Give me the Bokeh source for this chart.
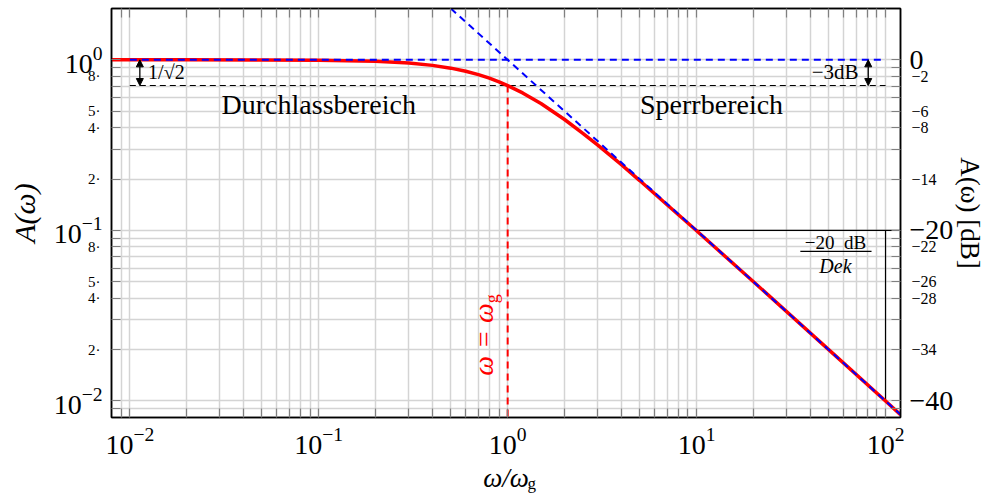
import math
from bokeh.plotting import figure
from bokeh.models import (LogAxis, FixedTicker, Label, Arrow, NormalHead, Range1d)
from bokeh.embed import file_html
from bokeh.resources import INLINE

# ---------------- data ----------------
omega = [0.008, 0.01, 0.02, 0.05, 0.1, 0.2, 0.3, 0.4, 0.5, 0.6, 0.7, 0.8, 0.9, 1.0,
         1.2, 1.5, 2.0, 2.5, 3.0, 4.0, 5.0, 7.0, 10.0, 20.0, 50.0, 100.0, 120.0]
amplitude = [1.0, 1.0, 1.0, 0.999, 0.995, 0.981, 0.958, 0.928, 0.894, 0.857, 0.819, 0.781, 0.743, 0.707,
             0.640, 0.555, 0.447, 0.371, 0.316, 0.243, 0.196, 0.141, 0.0995, 0.050, 0.020, 0.010, 0.0083]

asym_low_x = [0.01, 100.0]
asym_low_y = [1.0, 1.0]
asym_high_x = [0.5, 120.0]
asym_high_y = [2.0, 0.00833]
cut_x = [0.01, 100.0]
cut_y = [0.7071, 0.7071]
corner_x = [1.0, 1.0]
corner_y = [0.7071, 0.008]
slope_h_x = [10.0, 120.0]
slope_h_y = [0.1, 0.1]
slope_v_x = [100.0, 100.0]
slope_v_y = [0.1, 0.01]

x_major = [0.01, 0.1, 1, 10, 100]
x_minor = [0.009,
           0.02, 0.03, 0.04, 0.05, 0.06, 0.07, 0.08, 0.09,
           0.2, 0.3, 0.4, 0.5, 0.6, 0.7, 0.8, 0.9,
           2, 3, 4, 5, 6, 7, 8, 9,
           20, 30, 40, 50, 60, 70, 80, 90]
y_major = [0.01, 0.1, 1]
y_minor = [0.009,
           0.02, 0.03, 0.04, 0.05, 0.06, 0.07, 0.08, 0.09,
           0.2, 0.3, 0.4, 0.5, 0.6, 0.7, 0.8, 0.9]
y_minor_label_vals = [0.8, 0.5, 0.4, 0.2, 0.08, 0.05, 0.04, 0.02]
y_minor_labels = ["8·", "5·", "4·", "2·", "8·", "5·", "4·", "2·"]
db_major_labels = ["−40", "−20", "0"]
db_minor_labels = ["−2", "−6", "−8", "−14", "−22", "−26", "−28", "−34"]

XMIN, XMAX = 0.008, 120.0
YMIN, YMAX = 0.008, 2.0
X_SUB_POS = [1.34]          # where the subscript "g" of the x title sits
X_SUB_TEXT = ["g"]

FONT = "Liberation Serif"

p = figure(width=990, height=495, x_axis_type="log", y_axis_type="log",
           x_range=Range1d(XMIN, XMAX), y_range=Range1d(YMIN, YMAX),
           x_axis_location=None, y_axis_location=None,
           output_backend="svg", toolbar_location=None,
           min_border_left=111, min_border_right=90, min_border_top=8, min_border_bottom=78)
p.outline_line_color = "black"
p.outline_line_width = 1.5
p.background_fill_color = "white"
p.border_fill_color = "white"

xt = FixedTicker(ticks=x_major, minor_ticks=x_minor)
yt = FixedTicker(ticks=y_major, minor_ticks=y_minor)
# ticks drawn by the inner y axes: labelled minor values as "major", everything else as minor
y_other = sorted(set(y_major + y_minor) - set(y_minor_label_vals))
yt_inner = FixedTicker(ticks=y_minor_label_vals, minor_ticks=y_other)

for g, t in ((p.xgrid, xt), (p.ygrid, yt)):
    g.ticker = t
    g.grid_line_color = "#d4d4d4"
    g.grid_line_width = 1.5
    g.minor_grid_line_color = "#d4d4d4"
    g.minor_grid_line_width = 1.5


def ticks_on(ax):
    ax.major_tick_in = 9
    ax.major_tick_out = 0
    ax.minor_tick_in = 9
    ax.minor_tick_out = 0
    ax.major_tick_line_color = "#808080"
    ax.minor_tick_line_color = "#808080"
    ax.major_tick_line_width = 1.2
    ax.minor_tick_line_width = 1.2
    ax.axis_line_color = "black"
    ax.axis_line_width = 1.5


def ticks_off(ax):
    ax.major_tick_in = 0
    ax.major_tick_out = 0
    ax.minor_tick_in = 0
    ax.minor_tick_out = 0
    ax.major_tick_line_color = None
    ax.minor_tick_line_color = None
    ax.axis_line_color = None


def fonts(ax, size):
    ax.major_label_text_font = FONT
    ax.major_label_text_font_size = size
    ax.major_label_text_color = "black"
    ax.axis_label_text_font = FONT
    ax.axis_label_text_font_size = "28px"
    ax.axis_label_text_color = "black"
    ax.axis_label_text_font_style = "normal"


# ---- bottom: ticks + 10^k labels, then an outer axis carrying the title ω/ω with subscript g
bottom = LogAxis(ticker=xt, major_label_standoff=10)
ticks_on(bottom)
fonts(bottom, "28px")
bottom_title = LogAxis(ticker=FixedTicker(ticks=X_SUB_POS, minor_ticks=[]), major_label_standoff=17,
                       major_label_overrides=dict(zip(X_SUB_POS, X_SUB_TEXT)),
                       axis_label="ω/ω", axis_label_standoff=-33)
ticks_off(bottom_title)
fonts(bottom_title, "17px")
bottom_title.axis_label_text_font_style = "italic"
bottom_title.axis_label_text_font_size = "27px"
p.add_layout(bottom, "below")
p.add_layout(bottom_title, "below")

# ---- top: ticks only
top = LogAxis(ticker=xt, major_label_standoff=0)
ticks_on(top)
fonts(top, "1px")
top.major_label_text_alpha = 0.0
p.add_layout(top, "above")

# ---- left: inner axis (ticks + small labels), outer axis (10^k labels + title)
left_inner = LogAxis(ticker=yt_inner, major_label_standoff=11,
                     major_label_overrides=dict(zip(y_minor_label_vals, y_minor_labels)))
ticks_on(left_inner)
fonts(left_inner, "15px")
left_outer = LogAxis(ticker=FixedTicker(ticks=y_major, minor_ticks=[]), major_label_standoff=-17,
                     axis_label="A(ω)", axis_label_standoff=10)
ticks_off(left_outer)
fonts(left_outer, "28px")
left_outer.axis_label_text_font_style = "italic"
left_outer.axis_label_text_font_size = "30px"
p.add_layout(left_inner, "left")
p.add_layout(left_outer, "left")

# ---- right: inner axis (ticks + small dB labels), outer axis (0/-20/-40 + title)
right_inner = LogAxis(ticker=yt_inner, major_label_standoff=11,
                      major_label_overrides=dict(zip(y_minor_label_vals, db_minor_labels)))
ticks_on(right_inner)
fonts(right_inner, "16px")
right_outer = LogAxis(ticker=FixedTicker(ticks=y_major, minor_ticks=[]), major_label_standoff=-30,
                      major_label_overrides=dict(zip(y_major, db_major_labels)),
                      axis_label="A(ω) [dB]", axis_label_standoff=-1)
ticks_off(right_outer)
fonts(right_outer, "28px")
right_outer.axis_label_text_font_size = "27px"
p.add_layout(right_inner, "right")
p.add_layout(right_outer, "right")

# lines
p.line(cut_x, cut_y, line_color="black", line_width=1.2, line_dash="6 4")
p.line(slope_h_x, slope_h_y, line_color="black", line_width=1.2)
p.line(slope_v_x, slope_v_y, line_color="black", line_width=1.2)
p.line(corner_x, corner_y, line_color="red", line_width=2, line_dash="7 5")
p.line(omega, amplitude, line_color="red", line_width=3.5)
p.line(asym_low_x, asym_low_y, line_color="blue", line_width=2, line_dash="7 5")
p.line(asym_high_x, asym_high_y, line_color="blue", line_width=2, line_dash="7 5")

# arrows
for ax_x in (0.0113, 81.0):
    p.add_layout(Arrow(start=NormalHead(size=7, fill_color="black", line_color="black"),
                       end=NormalHead(size=7, fill_color="black", line_color="black"),
                       x_start=ax_x, y_start=1.0, x_end=ax_x, y_end=0.7071,
                       line_color="black", line_width=1.3))

p.add_layout(Label(x=0.0125, y=0.851, text="1/√2", text_align="left", text_baseline="middle",
                   text_font=FONT, text_font_size="20px", text_color="black"))
p.add_layout(Label(x=72.0, y=0.851, text="−3dB", text_align="right", text_baseline="middle",
                   text_font=FONT, text_font_size="21px", text_color="black"))

p.add_layout(Label(x=0.1, y=0.55, text="Durchlassbereich", text_align="center", text_baseline="middle",
                   text_font=FONT, text_font_size="28px", text_color="black"))
p.add_layout(Label(x=12.0, y=0.55, text="Sperrbereich", text_align="center", text_baseline="middle",
                   text_font=FONT, text_font_size="28px", text_color="black"))

# slope fraction
p.add_layout(Label(x=54.3, y=0.0851, text="−20\u2002dB", text_align="center", text_baseline="middle",
                   text_font=FONT, text_font_size="19px", text_color="black"))
p.add_layout(Label(x=54.3, y=0.0618, text="Dek", text_align="center", text_baseline="middle",
                   text_font=FONT, text_font_size="20px", text_font_style="italic", text_color="black"))
p.segment(x0=[35.4], y0=[0.0754], x1=[84.3], y1=[0.0754], line_color="black", line_width=1.2)

# omega = omega_g (rotated, red)
p.add_layout(Label(x=0.746, y=0.0374, text="ω = ω", angle=math.pi / 2, text_align="right",
                   text_baseline="middle", text_font=FONT, text_font_size="28px",
                   text_font_style="italic", text_color="red"))
p.add_layout(Label(x=0.746, y=0.0374, x_offset=8, text="g", angle=math.pi / 2, text_align="left",
                   text_baseline="middle", text_font=FONT, text_font_size="18px", text_color="red"))

open("out.html", "w").write(file_html(p, INLINE))
